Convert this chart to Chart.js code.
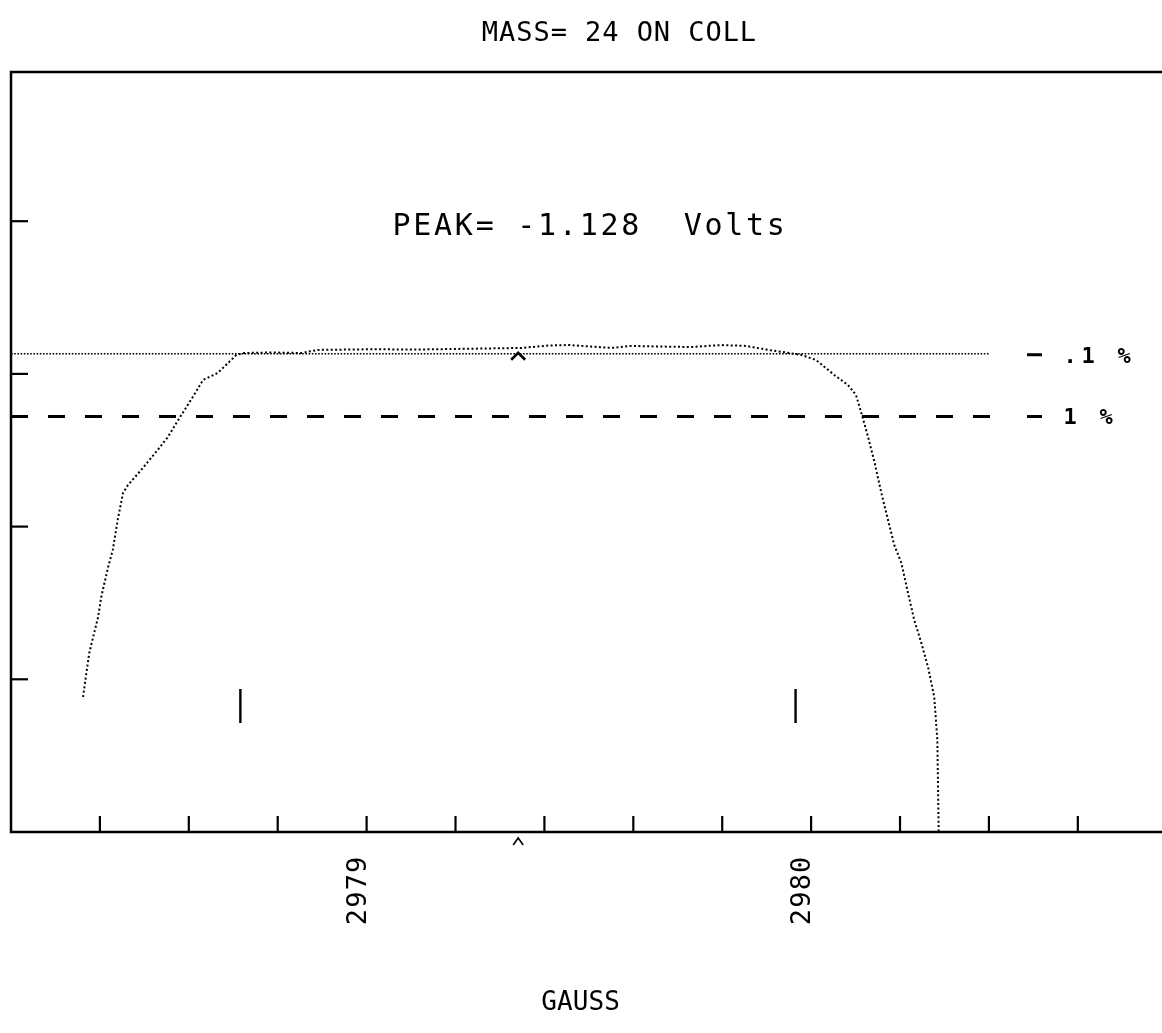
<!DOCTYPE html>
<html>
<head>
<meta charset="utf-8">
<title>MASS= 24 ON COLL</title>
<script src="https://cdn.jsdelivr.net/npm/chart.js@4.4.0/dist/chart.umd.min.js"></script>
<style>
    html, body { margin: 0; padding: 0; background: #fff; overflow: hidden; }
    #wrap { position: relative; width: 1240px; height: 1033px; }
</style>
</head>
<body>
<div id="wrap"><canvas id="peakChart"></canvas></div>
<script>
// Peak scan, mass 24 on collector
const gaussTicks = [2978.4, 2978.6, 2978.8, 2979.0, 2979.2, 2979.4, 2979.6, 2979.8, 2980.0, 2980.2, 2980.4, 2980.6];
const gaussLabels = [2979, 2980];
const levelTicks = [1, 2, 3, 4];

const scanGauss = [
    2978.362, 2978.376, 2978.396, 2978.403, 2978.418, 2978.429, 2978.440, 2978.452, 2978.463,
    2978.493, 2978.530, 2978.553, 2978.579, 2978.609, 2978.632, 2978.665, 2978.707, 2978.725,
    2978.785, 2978.853, 2978.890, 2979.003, 2979.123, 2979.258, 2979.348, 2979.411, 2979.456,
    2979.505, 2979.550, 2979.595, 2979.663, 2979.730, 2979.798, 2979.854, 2979.904, 2979.944,
    2979.978, 2980.011, 2980.052, 2980.083, 2980.101, 2980.113, 2980.128, 2980.143, 2980.158,
    2980.173, 2980.187, 2980.203, 2980.218, 2980.232, 2980.248, 2980.263, 2980.277, 2980.284,
    2980.287
];
const scanSignal = [
    0.884, 1.172, 1.408, 1.539, 1.729, 1.847, 2.043, 2.220, 2.272,
    2.371, 2.502, 2.587, 2.711, 2.849, 2.960, 3.006, 3.124, 3.137,
    3.140, 3.137, 3.157, 3.161, 3.160, 3.166, 3.170, 3.186, 3.189,
    3.179, 3.170, 3.183, 3.179, 3.176, 3.189, 3.183, 3.157, 3.140,
    3.124, 3.091, 2.993, 2.927, 2.862, 2.744, 2.589, 2.417, 2.220,
    2.043, 1.880, 1.762, 1.565, 1.388, 1.238, 1.081, 0.884, 0.602,
    0
];

const tenthPctLevel = 3.132;   // .1 % line
const onePctLevel = 2.721;     // 1 % line
const tenthPctSpan = [2978.2, 2980.400];
const onePctSpan = [2978.2, 2980.412];
const windowMarks = [2978.716, 2979.965];
const windowMarkRange = [0.714, 0.936];
const peakCentre = 2979.341;

const MONO = '"DejaVu Sans Mono", "Liberation Mono", monospace';

function spacedText(ctx, text, cx0, y, pitch) {
    for (let i = 0; i < text.length; i++) {
        ctx.fillText(text[i], cx0 + i * pitch, y);
    }
}

// right hand labels: a short bar, then the text
function levelLabel(ctx, text, y) {
    ctx.lineWidth = 3;
    ctx.beginPath();
    ctx.moveTo(1027, y);
    ctx.lineTo(1042, y);
    ctx.stroke();
    spacedText(ctx, text, 1070, y + 8, 18);
}

const plotterFrame = {
    id: 'plotterFrame',
    afterDraw(chart) {
        const ctx = chart.ctx;
        const { left, top, right, bottom } = chart.chartArea;
        const xs = chart.scales.x, ys = chart.scales.y;
        ctx.save();
        ctx.strokeStyle = '#000';
        ctx.fillStyle = '#000';
        ctx.lineCap = 'butt';

        // frame
        ctx.lineWidth = 2.5;
        ctx.beginPath();
        ctx.moveTo(right + 10, top);
        ctx.lineTo(left, top);
        ctx.lineTo(left, bottom);
        ctx.lineTo(right + 10, bottom);
        ctx.stroke();

        // inward ticks
        ctx.lineWidth = 2.2;
        gaussTicks.forEach(v => {
            const px = xs.getPixelForValue(v);
            ctx.beginPath();
            ctx.moveTo(px, bottom);
            ctx.lineTo(px, bottom - 16);
            ctx.stroke();
        });
        levelTicks.forEach(v => {
            const py = ys.getPixelForValue(v);
            ctx.beginPath();
            ctx.moveTo(left, py);
            ctx.lineTo(left + 17, py);
            ctx.stroke();
        });

        // peak carets
        const cx = xs.getPixelForValue(peakCentre);
        const cy = ys.getPixelForValue(tenthPctLevel);
        ctx.lineWidth = 2.6;
        ctx.beginPath();
        ctx.moveTo(cx - 7, cy + 6);
        ctx.lineTo(cx, cy - 1);
        ctx.lineTo(cx + 7, cy + 6);
        ctx.stroke();
        ctx.lineWidth = 1.6;
        ctx.beginPath();
        ctx.moveTo(cx - 5, bottom + 13);
        ctx.lineTo(cx, bottom + 6);
        ctx.lineTo(cx + 5, bottom + 13);
        ctx.stroke();

        // rotated tick labels
        ctx.font = '27px ' + MONO;
        ctx.textAlign = 'center';
        ctx.textBaseline = 'alphabetic';
        gaussLabels.forEach(v => {
            const px = xs.getPixelForValue(v);
            ctx.save();
            ctx.translate(px - 1, 925);
            ctx.rotate(-Math.PI / 2);
            spacedText(ctx, String(v), 8, 0, 17.4);
            ctx.restore();
        });

        // texts
        ctx.font = '27px ' + MONO;
        spacedText(ctx, 'MASS= 24 ON COLL', 490, 41, 17.2);
        ctx.font = '30px ' + MONO;
        spacedText(ctx, 'PEAK= -1.128  Volts', 401.5, 235, 20.8);
        ctx.font = '26px ' + MONO;
        spacedText(ctx, 'GAUSS', 549, 1010, 15.8);
        ctx.font = 'bold 22px ' + MONO;
        levelLabel(ctx, '.1 %', ys.getPixelForValue(tenthPctLevel) + 1);
        levelLabel(ctx, '1 %', ys.getPixelForValue(onePctLevel));

        ctx.restore();
    }
};

const toPoints = (xs, ys) => xs.map((x, i) => ({ x: x, y: ys[i] }));

new Chart(document.getElementById('peakChart'), {
    type: 'scatter',
    data: {
        datasets: [
            {
                label: '.1 %',
                data: tenthPctSpan.map(x => ({ x: x, y: tenthPctLevel })),
                showLine: true,
                borderColor: '#000',
                borderWidth: 1.6,
                borderDash: [1.6, 1.6],
                pointRadius: 0
            },
            {
                label: '1 %',
                data: onePctSpan.map(x => ({ x: x, y: onePctLevel })),
                showLine: true,
                borderColor: '#000',
                borderWidth: 3,
                borderDash: [17, 20],
                pointRadius: 0
            },
            {
                label: 'scan',
                data: toPoints(scanGauss, scanSignal),
                showLine: true,
                borderColor: '#000',
                borderWidth: 2,
                borderDash: [2, 2.4],
                pointRadius: 0,
                tension: 0
            },
            ...windowMarks.map(g => ({
                label: 'window',
                data: windowMarkRange.map(y => ({ x: g, y: y })),
                showLine: true,
                borderColor: '#000',
                borderWidth: 2.4,
                pointRadius: 0
            }))
        ]
    },
    options: {
        responsive: true,
        maintainAspectRatio: false,
        animation: false,
        layout: { padding: { left: 11, top: 72, right: 6.6, bottom: 201 } },
        scales: {
            x: { type: 'linear', min: 2978.2, max: 2980.95, display: false },
            y: { type: 'linear', min: 0, max: 4.977, display: false }
        },
        plugins: {
            legend: { display: false },
            tooltip: { enabled: false }
        }
    },
    plugins: [plotterFrame]
});
</script>
</body>
</html>
